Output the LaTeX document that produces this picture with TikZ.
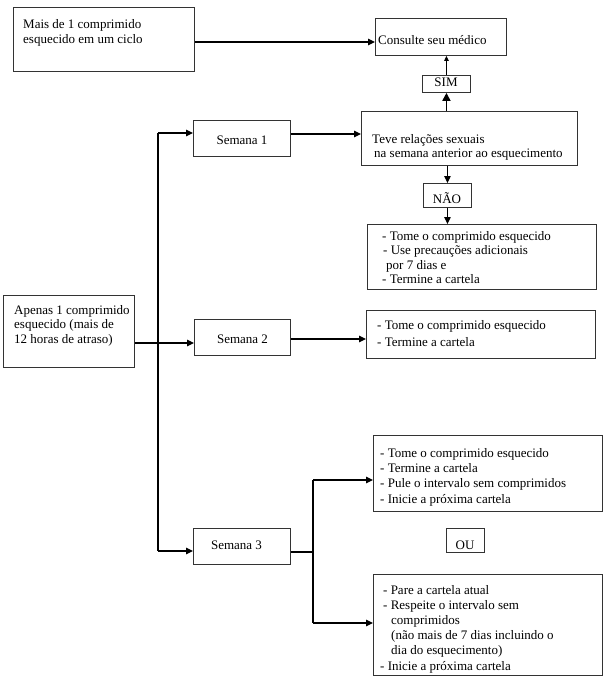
\documentclass[tikz,border=0pt]{standalone}
\usepackage{fontspec}
\setmainfont{Liberation Serif}
\usetikzlibrary{arrows.meta,calc}
\begin{document}
\begin{tikzpicture}[x=1pt,y=-1pt,
  box/.style={draw=black!80, line width=0.9pt, inner sep=0pt, anchor=north west},
  txt/.style={inner sep=0pt, align=left, anchor=base west, font=\fontsize{13}{15}\selectfont},
  ctxt/.style={inner sep=0pt, anchor=base, font=\fontsize{13}{15}\selectfont},
  conn/.style={line width=1.1pt, -{Triangle[length=7pt,width=6.5pt]}},
  smallconn/.style={line width=0.9pt, -{Triangle[length=5pt,width=4.5pt]}},
  bigconn/.style={line width=1.8pt, -{Triangle[length=8pt,width=8pt]}},
  plain/.style={line width=1.1pt}]
\useasboundingbox (0,0) rectangle (606,685);

% boxes
\node[box, minimum width=181pt, minimum height=64pt] (b1) at (13,7) {};
\node[box, minimum width=131pt, minimum height=37pt] (cons) at (375,18) {};
\node[box, minimum width=48pt, minimum height=17pt] (sim) at (422,75) {};
\node[box, minimum width=216pt, minimum height=54pt] (teve) at (361,111) {};
\node[box, minimum width=48pt, minimum height=24pt] (nao) at (423,183) {};
\node[box, minimum width=229pt, minimum height=65pt] (a1) at (367,224) {};
\node[box, minimum width=131pt, minimum height=72pt] (apenas) at (3,295) {};
\node[box, minimum width=97pt, minimum height=36pt] (s1) at (193,120) {};
\node[box, minimum width=96pt, minimum height=36pt] (s2) at (194,319) {};
\node[box, minimum width=97pt, minimum height=36pt] (s3) at (193,528) {};
\node[box, minimum width=229pt, minimum height=48pt] (a2) at (366,310) {};
\node[box, minimum width=229pt, minimum height=76pt] (a3) at (373,435) {};
\node[box, minimum width=38pt, minimum height=24pt] (ou) at (446,528) {};
\node[box, minimum width=229pt, minimum height=101pt] (a4) at (373,574) {};

% texts (base anchor = baseline of last line)
\node[txt] (t1) at (23,44) {Mais de 1 comprimido\\esquecido em um ciclo};
\node[txt] (tcons) at (378,45) {Consulte seu médico};
\node[ctxt] (tsim) at (446,86) {SIM};
\node[txt, font=\fontsize{13}{14}\selectfont] (tteve) at (372,157) {Teve relações sexuais\\\hspace*{2pt}na semana anterior ao esquecimento};
\node[ctxt] (tnao) at (447,203) {NÃO};
\node[txt, font=\fontsize{13}{14.5}\selectfont] (ta1) at (382,283.5) {- Tome o comprimido esquecido\\\hspace*{1pt}- Use precauções adicionais\\\hspace*{4pt}por 7 dias e\\- Termine a cartela};
\node[txt, font=\fontsize{13}{14.5}\selectfont] (tapenas) at (14,343) {Apenas 1 comprimido\\esquecido (mais de\\12 horas de atraso)};
\node[ctxt] (ts1) at (242,144) {Semana 1};
\node[ctxt] (ts2) at (242.5,343) {Semana 2};
\node[ctxt] (ts3) at (236.5,549) {Semana 3};
\node[txt, font=\fontsize{13}{17}\selectfont] (ta2) at (377,346) {- Tome o comprimido esquecido\\- Termine a cartela};
\node[txt, font=\fontsize{13}{15.3}\selectfont] (ta3) at (380,503) {- Tome o comprimido esquecido\\- Termine a cartela\\- Pule o intervalo sem comprimidos\\- Inicie a próxima cartela};
\node[ctxt] (tou) at (465,549) {OU};
\node[txt, font=\fontsize{13}{15.2}\selectfont] (ta4) at (380,670) {\hspace*{3pt}- Pare a cartela atual\\\hspace*{3pt}- Respeite o intervalo sem\\\hspace*{11pt}comprimidos\\\hspace*{11pt}(não mais de 7 dias incluindo o\\\hspace*{11pt}dia do esquecimento)\\- Inicie a próxima cartela};

% junction coordinates
\coordinate (j1) at (0,42);
\coordinate (j2) at (0,134);
\coordinate (j3) at (0,343);
\coordinate (j4) at (0,339);
\coordinate (jt) at (158,133);
\coordinate (jb) at (158,551);
\coordinate (jm) at (313,552);
\coordinate (ju) at (313,480);
\coordinate (jd) at (313,623);

% connectors
\draw[conn] (b1.east |- j1) -- (cons.west |- j1);
\draw[bigconn] (sim.south |- teve.north) -- (sim.south);
\draw[smallconn] (sim.north) -- (sim.north |- cons.south);
\draw[conn] (s1.east |- j2) -- (teve.west |- j2);
\draw[conn] (nao.north |- teve.south) -- (nao.north);
\draw[conn] (nao.south) -- (nao.south |- a1.north);
\draw[plain] (jt) -- (jb);
\draw[conn] (jt) -- (s1.west |- jt);
\draw[conn] (jb) -- (s3.west |- jb);
\draw[conn] (apenas.east |- j3) -- (s2.west |- j3);
\draw[conn] (s2.east |- j4) -- (a2.west |- j4);
\draw[plain] (s3.east |- jm) -- (jm);
\draw[plain] (ju) -- (jd);
\draw[conn] (ju) -- (a3.west |- ju);
\draw[conn] (jd) -- (a4.west |- jd);
\end{tikzpicture}
\end{document}
